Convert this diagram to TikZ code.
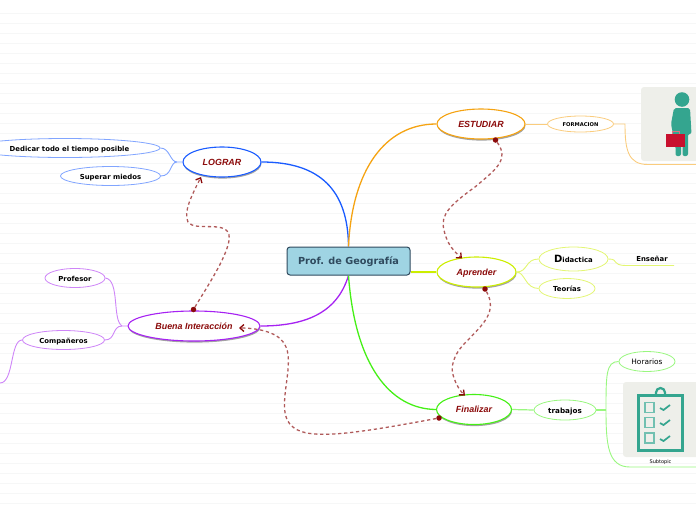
\documentclass[tikz,border=0pt]{standalone}
\usepackage{fontspec}
\setmainfont{Liberation Sans}
\newfontfamily\verdfont{DejaVu Sans}
\usepackage{xcolor}
\usetikzlibrary{arrows.meta,shapes.geometric,shadows}
\definecolor{linkred}{HTML}{B05A5A}
\definecolor{tipred}{HTML}{8B0A0A}
\definecolor{rootfill}{HTML}{9FD4E3}
\definecolor{rootdark}{HTML}{2F4A5E}
\definecolor{iconbox}{HTML}{EEEFEA}
\definecolor{iconteal}{HTML}{34A58F}
\definecolor{bagred}{HTML}{C8102E}
\definecolor{gridline}{HTML}{F6F7F7}
\definecolor{blueb}{HTML}{1A5CFF}
\definecolor{purpb}{HTML}{A622F2}
\definecolor{orangeb}{HTML}{F5A312}
\definecolor{limeb}{HTML}{CCEE00}
\definecolor{greenb}{HTML}{45F016}
\tikzset{
  maintopic/.style={ellipse,draw=#1,line width=1.1pt,fill=white,inner sep=0pt,text=tipred,
    font=\bfseries\itshape\fontsize{8.9}{10}\selectfont,
    drop shadow={shadow xshift=.5pt,shadow yshift=-1.6pt,fill=black!60,opacity=.6}},
  subtopic/.style={ellipse,draw=#1!55,line width=.8pt,fill=white,inner sep=0pt,
    text height=6.6pt,text depth=0pt,font=\verdfont\bfseries\fontsize{6.9}{8}\selectfont},
  branch/.style={draw=#1,line width=1.3pt},
  twig/.style={draw=#1!55,line width=.9pt},
  relation/.style={draw=linkred,line width=1.3pt,dash pattern=on 3.2pt off 2.8pt,
    -{Straight Barb[length=4pt,width=7pt,color=tipred,line width=1.3pt]}},
  relstart/.style={circle,fill=tipred,inner sep=0pt,minimum size=5.5pt}
}
\begin{document}
\begin{tikzpicture}[x=1pt,y=-1pt]
  \useasboundingbox (0,0) rectangle (696,520);
  \foreach \y in {13,23,...,503} \draw[gridline,line width=.6pt] (0,\y) -- (696,\y);

  % free ends
  \coordinate (lograrfork) at (177,162);
  \coordinate (buenafork) at (122,326);
  \coordinate (companerosend) at (0,383);
  \coordinate (formacionend) at (696,164.5);
  \coordinate (formacionout) at (625,124);
  \coordinate (trabajosfork) at (606,410);
  \coordinate (trabajosend) at (696,467);

  % icons
  \fill[iconbox,rounded corners=3pt] (641,87) rectangle (700,161);
  \fill[iconbox,rounded corners=3pt] (623,382) rectangle (700,457);
  \fill[iconteal] (682,99.5) circle (7.3);
  \fill[iconteal,rounded corners=2pt] (674,108) -- (690,108) -- (691.5,134) -- (688,134) -- (688,156)
    -- (682.5,156) -- (682.5,140) -- (681,140) -- (681,156) -- (675.5,156) -- (675.5,146) -- (671,124) -- cycle;
  \fill[bagred] (666,133.5) rectangle (684.5,147);
  \draw[bagred!60,line width=.7pt] (672,133.5) -- (672,131.5) -- (679,131.5) -- (679,133.5);
  \draw[iconteal,line width=3pt] (638.5,395) rectangle (682,450.5);
  \draw[iconteal,line width=2.2pt] (656,394) -- (656,392.5) arc[start angle=180,end angle=360,radius=4.5] -- (665,394);
  \foreach \y/\c in {407.5/408,422.5/423,438/439} {
    \draw[iconteal!70,line width=1.6pt] (645,\y-5) rectangle (654,\y+5);
    \draw[iconteal,line width=1.7pt] (660,\c) -- (663.5,\c+2) -- (670,\c-3);
  }

  % main branches
  \node[draw=rootdark,fill=rootfill,rounded corners=3pt,line width=1pt,minimum width=123pt,minimum height=28pt,
    inner sep=0pt,text=rootdark,text height=7.6pt,text depth=0pt,font=\verdfont\bfseries\fontsize{9.7}{11}\selectfont] (geografia) at (348.5,261) {Prof. de Geografía};
  \node[maintopic=blueb,minimum width=78pt,minimum height=30pt] (lograr) at (222,162) {LOGRAR};
  \node[maintopic=purpb,minimum width=132pt,minimum height=30pt] (buena) at (194,326) {Buena Interacción};
  \node[maintopic=orangeb,minimum width=88pt,minimum height=30pt] (estudiar) at (481,124) {ESTUDIAR};
  \node[maintopic=limeb,minimum width=79pt,minimum height=30pt,text height=7pt,text depth=0pt] (aprender) at (476.5,272) {Aprender};
  \node[maintopic=greenb,minimum width=75pt,minimum height=30pt] (finalizar) at (474,409.5) {Finalizar};
  \draw[branch=blueb] (lograr.east) .. controls (320,162) and (348,190) .. (geografia.north);
  \draw[branch=orangeb] (estudiar.west) .. controls (385,124) and (352,170) .. (geografia.north);
  \draw[branch=purpb] (buena.east) .. controls (310,326) and (338,310) .. (geografia.south);
  \draw[branch=greenb] (finalizar.west) .. controls (390,409) and (355,365) .. (geografia.south);
  \draw[branch=limeb] (geografia.east |- aprender.west) -- (aprender.west);

  % sub topics
  \node[subtopic=blueb,minimum width=190pt,minimum height=19pt] (dedicar) at (65,148) {\hspace*{9pt}Dedicar todo el tiempo posible};
  \node[subtopic=blueb,minimum width=100pt,minimum height=19pt] (superar) at (110.5,176) {Superar miedos};
  \node[subtopic=purpb,minimum width=60pt,minimum height=19pt] (profesor) at (75,278) {Profesor};
  \node[subtopic=purpb,minimum width=82pt,minimum height=19pt] (companeros) at (63.5,340) {Compañeros};
  \node[subtopic=orangeb,minimum width=66pt,minimum height=16pt,text height=5pt,font=\verdfont\bfseries\fontsize{5.2}{6}\selectfont] (formacion) at (580.5,124) {FORMACION};
  \node[subtopic=limeb,minimum width=69pt,minimum height=24pt,text height=7.4pt] (didactica) at (573.5,259) {{\fontsize{10}{10}\selectfont D}idactica};
  \node[subtopic=limeb,minimum width=56pt,minimum height=20pt] (teorias) at (567,288.5) {Teorías};
  \node[subtopic=greenb,minimum width=62pt,minimum height=20pt,font=\verdfont\bfseries\fontsize{7.2}{8}\selectfont] (trabajos) at (565,410) {trabajos};
  \node[subtopic=greenb,minimum width=56pt,minimum height=20pt,font=\verdfont\fontsize{7.4}{8}\selectfont] (horarios) at (647,361.5) {Horarios};
  \node[font=\verdfont\bfseries\fontsize{6.9}{8}\selectfont,inner sep=0pt] (ensenar) at (652,259) {Enseñar};
  \coordinate (ensenarleft) at (627,265.5);
  \coordinate (ensenarright) at (674,265.5);
  \node[font=\verdfont\fontsize{5}{6}\selectfont,inner sep=0pt] (subtopiclabel) at (660.5,462) {Subtopic};

  \draw[twig=blueb] (lograr.west) -- (lograrfork) .. controls (170,162) and (170,148) .. (dedicar.east);
  \draw[twig=blueb] (lograrfork) .. controls (170,162) and (172,176) .. (superar.east);
  \draw[twig=purpb] (buena.west) -- (buenafork) .. controls (112,320) and (120,280) .. (profesor.east);
  \draw[twig=purpb] (buenafork) .. controls (112,326) and (116,340) .. (companeros.east);
  \draw[twig=purpb] (companeros.west) .. controls (10,340) and (14,383) .. (companerosend);
  \draw[twig=orangeb] (estudiar.east) -- (formacion.west);
  \draw[twig=orangeb] (formacion.east) -- (formacionout) .. controls (625,150) and (628,164.5) .. (648,164.5) -- (formacionend);
  \draw[twig=limeb] (aprender.east) .. controls (528,272) and (525,259) .. (didactica.west);
  \draw[twig=limeb] (aprender.east) .. controls (525,272) and (525,288.5) .. (teorias.west);
  \draw[twig=limeb] (didactica.east) .. controls (620,259) and (610,265.5) .. (ensenarleft) -- (ensenarright);
  \draw[twig=greenb,line width=1.2pt] (finalizar.east) -- (trabajos.west);
  \draw[twig=greenb,line width=1.2pt] (trabajos.east) -- (trabajosfork);
  \draw[twig=greenb] (trabajosfork) .. controls (606,375) and (606,361.5) .. (horarios.west);
  \draw[twig=greenb] (trabajosfork) .. controls (606,445) and (608,467) .. (630,467) -- (trabajosend);

  % relations
  \node[relstart] (buenadot) at (193.5,309.5) {};
  \node[relstart] (estudiardot) at (495.5,140) {};
  \node[relstart] (aprenderdot) at (485,289) {};
  \node[relstart] (finalizardot) at (439,418) {};
  \coordinate (logrartip) at (201,177);
  \coordinate (aprendertip) at (462,258.5);
  \coordinate (finalizartip) at (465,395.5);
  \coordinate (buenatip) at (239,328);
  \draw[relation] (buenadot) .. controls (205,290) and (232,250) .. (229,235)
    .. controls (226,220) and (195,232) .. (188,222)
    .. controls (183,212) and (192,195) .. (logrartip);
  \draw[relation] (estudiardot) .. controls (510,160) and (495,170) .. (475,187)
    .. controls (450,205) and (440,215) .. (444,230)
    .. controls (447,245) and (455,252) .. (aprendertip);
  \draw[relation] (aprenderdot) .. controls (498,312) and (482,325) .. (468,340)
    .. controls (452,355) and (450,368) .. (454,378)
    .. controls (456,385) and (461,392) .. (finalizartip);
  \draw[relation] (finalizardot) .. controls (385,428) and (340,436) .. (315,434)
    .. controls (285,432) and (283,415) .. (285,395)
    .. controls (287,375) and (292,355) .. (284,343)
    .. controls (276,331) and (255,328) .. (buenatip);
\end{tikzpicture}
\end{document}
